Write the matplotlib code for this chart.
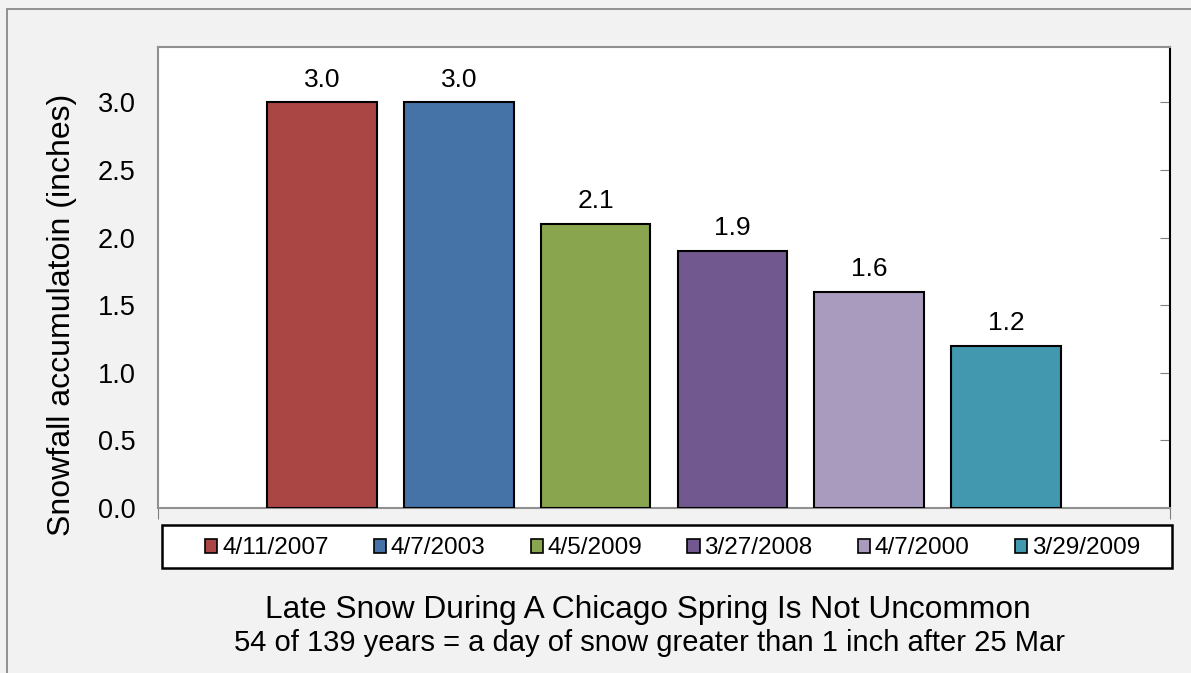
import numpy as np
import matplotlib
matplotlib.use("Agg")
import matplotlib.pyplot as plt
from matplotlib.patches import Rectangle

plt.rcParams['font.family'] = ['Liberation Sans', 'DejaVu Sans']

# data
dates = ["4/11/2007", "4/7/2003", "4/5/2009", "3/27/2008", "4/7/2000", "3/29/2009"]
snow_in = [3.0, 3.0, 2.1, 1.9, 1.6, 1.2]
bar_colors = ["#AA4644", "#4572A7", "#89A54E", "#71588F", "#A99BBD", "#4198AF"]
yticks = [0.0, 0.5, 1.0, 1.5, 2.0, 2.5, 3.0]

W, H = 1191, 673
fig = plt.figure(figsize=(W / 100, H / 100), dpi=100)
fig.patch.set_facecolor("#F2F2F2")

# outer chart border (only top/left show in the picture)
fig.patches.append(Rectangle((7 / W, -0.1), 1.2, 1.1 - 9 / H, transform=fig.transFigure,
                             fill=False, edgecolor="#808080", lw=1.2, zorder=0))

ax = fig.add_axes([158 / W, 1 - 508 / H, (1170 - 158) / W, (508 - 47) / H])
ax.set_facecolor("white")

xpos = np.arange(len(dates))
bars = ax.bar(xpos, snow_in, width=0.8, color=bar_colors, edgecolor="black", lw=1.5, zorder=3)
for b, v in zip(bars, snow_in):
    ax.text(b.get_x() + b.get_width() / 2, v + 0.08, f"{v:.1f}", ha="center", va="bottom",
            fontsize=19)

ax.set_xlim(-1.2, 6.2)
ax.set_ylim(0, 3.41)
ax.set_yticks(yticks)
ax.set_yticklabels([f"{t:.1f}" for t in yticks], fontsize=19.5)
ax.tick_params(axis="y", left=False, right=True, direction="in", length=7, color="#808080",
               pad=16)
ax.set_xticks([-1.2, 6.2])
ax.set_xticklabels([])
ax.tick_params(axis="x", direction="out", length=8, color="#808080")
ax.set_ylabel("Snowfall accumulatoin (inches)", fontsize=23)
ax.yaxis.set_label_coords(-0.08, 0.42)

for s in ["left", "bottom", "top"]:
    ax.spines[s].set_color("#909090")
    ax.spines[s].set_linewidth(1.5)
ax.spines["right"].set_color("black")
ax.spines["right"].set_linewidth(1.5)

# legend box (drawn separately so the entries can sit inside with wide side margins)
fig.patches.append(Rectangle((162 / W, 1 - 568 / H), (1172 - 162) / W, 43 / H,
                             transform=fig.transFigure, facecolor="white", edgecolor="black",
                             lw=1.8, zorder=1))
leg = fig.legend(bars, dates, ncol=6, loc="center", mode="expand",
                 bbox_to_anchor=(205 / W, 1 - 570 / H, (1140 - 205) / W, 43 / H),
                 fontsize=17.5, frameon=False, handlelength=0.5, handleheight=0.5,
                 handletextpad=0.2, borderaxespad=0, borderpad=0, columnspacing=1.0)
for h in leg.legend_handles:
    h.set_linewidth(1.2)

fig.text(648 / W, 1 - 610 / H, "Late Snow During A Chicago Spring Is Not Uncommon",
         ha="center", va="center", fontsize=22.8)
fig.text(649 / W, 1 - 643 / H, "54 of 139 years = a day of snow greater than 1 inch after 25 Mar",
         ha="center", va="center", fontsize=21)

fig.savefig("out.png", dpi=100, facecolor=fig.get_facecolor())
